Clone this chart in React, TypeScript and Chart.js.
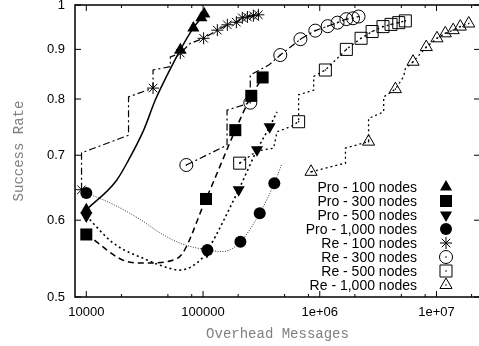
import React, { useEffect, useRef } from 'react';
import { Chart, registerables } from 'chart.js';
import { drawPoint } from 'chart.js/helpers';

Chart.register(...registerables);

// ---------- axes ----------
const xMajorTicks = [1e4, 1e5, 1e6, 1e7];
const xMajorLabels = ['10000', '100000', '1e+06', '1e+07'];
const xMinorTicks = [2e4, 5e4, 8e4, 2e5, 5e5, 8e5, 2e6, 5e6, 8e6, 2e7];
const yTicks = [0.5, 0.6, 0.7, 0.8, 0.9, 1];
const yTickLabels = ['0.5', '0.6', '0.7', '0.8', '0.9', '1'];

// ---------- series names ----------
const seriesNames = [
  'Pro - 100 nodes',
  'Pro - 300 nodes',
  'Pro - 500 nodes',
  'Pro - 1,000 nodes',
  'Re - 100 nodes',
  'Re - 300 nodes',
  'Re - 500 nodes',
  'Re - 1,000 nodes',
];

// ---------- marker values ----------
const pro100X = [10000, 63900, 82600, 96700, 102600];
const pro100Y = [0.615, 0.899, 0.947, 0.970, 0.979];
const pro300X = [10000, 106000, 189000, 259000, 324000];
const pro300Y = [0.580, 0.631, 0.743, 0.806, 0.842];
const pro500X = [10000, 108000, 202000, 290000, 372000];
const pro500Y = [0.606, 0.557, 0.645, 0.709, 0.749];
const pro1000X = [10000, 109000, 209000, 306000, 408000];
const pro1000Y = [0.640, 0.559, 0.570, 0.610, 0.655];
const re100X = [9100, 37300, 63900, 101200, 132600, 161500, 193000, 217000, 240000, 270000, 298000];
const re100Y = [0.645, 0.821, 0.892, 0.924, 0.942, 0.954, 0.960, 0.970, 0.972, 0.975, 0.977];
const re300X = [71900, 254000, 459000, 683000, 916000, 1170000, 1420000, 1690000, 1930000, 2150000];
const re300Y = [0.684, 0.793, 0.888, 0.922, 0.941, 0.951, 0.959, 0.967, 0.969, 0.973];
const re500X = [206000, 659000, 1117000, 1690000, 2260000, 2810000, 3480000, 4080000, 4750000, 5410000];
const re500Y = [0.687, 0.758, 0.857, 0.900, 0.924, 0.939, 0.950, 0.955, 0.959, 0.963];
const re1000X = [842000, 2620000, 4450000, 6300000, 8180000, 10100000, 11900000, 13900000, 16000000, 18900000];
const re1000Y = [0.673, 0.723, 0.819, 0.874, 0.905, 0.924, 0.935, 0.942, 0.950, 0.957];

// ---------- line paths (vertices) ----------
const pro100LineX = [10000, 18070, 23000, 31000, 39000, 49400, 63900, 82600, 96700, 102600];
const pro100LineY = [0.615, 0.659, 0.692, 0.743, 0.798, 0.847, 0.899, 0.947, 0.970, 0.979];
const pro300LineX = [10000, 23800, 33300, 60200, 106000, 189000, 259000, 324000];
const pro300LineY = [0.580, 0.543, 0.542, 0.548, 0.631, 0.743, 0.806, 0.842];
const pro500LineX = [10000, 17100, 33100, 52500, 63900, 98000, 108000, 202000, 290000, 372000, 430000];
const pro500LineY = [0.606, 0.568, 0.546, 0.535, 0.533, 0.548, 0.557, 0.645, 0.709, 0.749, 0.776];
const pro1000LineX = [10000, 16060, 29000, 43000, 63900, 109000, 149000, 209000, 306000, 408000, 469000];
const pro1000LineY = [0.640, 0.625, 0.601, 0.582, 0.568, 0.559, 0.557, 0.570, 0.610, 0.655, 0.684];
const re100LineX = [9100, 9100, 23000, 23000, 37300, 37300, 52500, 52500, 63900, 77800, 101200, 132600, 161500, 193000, 217000, 240000, 270000, 298000];
const re100LineY = [0.645, 0.704, 0.734, 0.804, 0.821, 0.857, 0.864, 0.884, 0.892, 0.913, 0.924, 0.942, 0.954, 0.960, 0.970, 0.972, 0.975, 0.977];
const re300LineX = [71900, 160600, 160600, 254000, 254000, 365000, 459000, 683000, 916000, 1170000, 1420000, 1690000, 1930000, 2150000];
const re300LineY = [0.684, 0.717, 0.779, 0.793, 0.847, 0.867, 0.888, 0.922, 0.941, 0.951, 0.959, 0.967, 0.969, 0.973];
const re500LineX = [206000, 290000, 403000, 430000, 560000, 659000, 659000, 887000, 887000, 1117000, 1690000, 2260000, 2810000, 3480000, 4080000, 4750000, 5410000];
const re500LineY = [0.687, 0.707, 0.712, 0.740, 0.749, 0.758, 0.808, 0.817, 0.844, 0.857, 0.900, 0.924, 0.939, 0.950, 0.955, 0.959, 0.963];
const re1000LineX = [842000, 1660000, 1660000, 2620000, 2620000, 3530000, 3530000, 4450000, 5240000, 5410000, 6300000, 8180000, 10100000, 11900000, 13900000, 16000000, 18900000];
const re1000LineY = [0.673, 0.687, 0.712, 0.723, 0.764, 0.776, 0.804, 0.819, 0.844, 0.860, 0.874, 0.905, 0.924, 0.935, 0.942, 0.950, 0.957];

const markerX = [pro100X, pro300X, pro500X, pro1000X, re100X, re300X, re500X, re1000X];
const markerY = [pro100Y, pro300Y, pro500Y, pro1000Y, re100Y, re300Y, re500Y, re1000Y];
const lineX = [pro100LineX, pro300LineX, pro500LineX, pro1000LineX, re100LineX, re300LineX, re500LineX, re1000LineX];
const lineY = [pro100LineY, pro300LineY, pro500LineY, pro1000LineY, re100LineY, re300LineY, re500LineY, re1000LineY];

type Style = {
  pointStyle: string; radius: number; rotation: number; filled: boolean; dot: boolean;
  dash: number[]; lw: number; lineColor: string; smooth: boolean;
};
const styles: Style[] = [
  { pointStyle: 'triangle', radius: 7, rotation: 0, filled: true, dot: false, dash: [], lw: 1.5, lineColor: '#000', smooth: true },
  { pointStyle: 'rect', radius: 8.5, rotation: 0, filled: true, dot: false, dash: [6, 4], lw: 1.5, lineColor: '#000', smooth: true },
  { pointStyle: 'triangle', radius: 7, rotation: 180, filled: true, dot: false, dash: [2, 3], lw: 1.6, lineColor: '#000', smooth: true },
  { pointStyle: 'circle', radius: 6, rotation: 0, filled: true, dot: false, dash: [1, 1.5], lw: 1, lineColor: '#333', smooth: true },
  { pointStyle: 'star', radius: 6, rotation: 0, filled: false, dot: false, dash: [7, 3, 2, 3], lw: 1.2, lineColor: '#000', smooth: false },
  { pointStyle: 'circle', radius: 6.5, rotation: 0, filled: false, dot: true, dash: [7, 3, 2, 3], lw: 1.2, lineColor: '#000', smooth: false },
  { pointStyle: 'rect', radius: 8.5, rotation: 0, filled: false, dot: true, dash: [2, 3], lw: 1.3, lineColor: '#000', smooth: false },
  { pointStyle: 'triangle', radius: 7, rotation: 0, filled: false, dot: true, dash: [2, 3], lw: 1.3, lineColor: '#000', smooth: false },
];

const pts = (xs: number[], ys: number[]) => xs.map((x, i) => ({ x, y: ys[i] }));

const framePlugin = {
  id: 'gpFrame',
  afterDatasetsDraw(chart: any) {
    const { ctx, chartArea: a, scales } = chart;
    const xs = scales.x, ys = scales.y;
    ctx.save();
    ctx.strokeStyle = '#000';
    ctx.lineWidth = 1;
    ctx.setLineDash([]);
    ctx.beginPath();
    const xt = (v: number, len: number) => {
      const p = xs.getPixelForValue(v);
      ctx.moveTo(p, a.bottom); ctx.lineTo(p, a.bottom - len);
      ctx.moveTo(p, a.top); ctx.lineTo(p, a.top + len);
    };
    xMajorTicks.forEach((v) => xt(v, 6));
    xMinorTicks.forEach((v) => xt(v, 3));
    yTicks.forEach((v) => {
      const p = ys.getPixelForValue(v);
      ctx.moveTo(a.left, p); ctx.lineTo(a.left + 6, p);
      ctx.moveTo(a.right, p); ctx.lineTo(a.right - 6, p);
    });
    ctx.stroke();
    ctx.lineWidth = 1.5;
    ctx.strokeRect(a.left, a.top, a.right - a.left, a.bottom - a.top);
    ctx.restore();
  },
};

const legendPlugin = {
  id: 'gpLegend',
  afterDraw(chart: any) {
    const { ctx, chartArea: a } = chart;
    const textX = a.right - 63;
    const markX = a.right - 34;
    const top = a.bottom - 110;
    ctx.save();
    ctx.font = '14px "Liberation Sans"';
    ctx.textAlign = 'right';
    ctx.textBaseline = 'middle';
    seriesNames.forEach((name, i) => {
      const y = top + i * 14;
      const s = styles[i];
      ctx.fillStyle = '#000';
      ctx.fillText(name, textX, y + 1);
      ctx.setLineDash([]);
      ctx.fillStyle = s.filled ? '#000' : 'rgba(0,0,0,0)';
      ctx.strokeStyle = '#000';
      ctx.lineWidth = 1;
      drawPoint(ctx, { pointStyle: s.pointStyle as any, radius: s.radius, rotation: s.rotation, borderWidth: s.filled ? 0 : 1 }, markX, y);
      if (s.dot) {
        ctx.fillStyle = '#000';
        ctx.beginPath();
        ctx.arc(markX, y, 0.8, 0, Math.PI * 2);
        ctx.fill();
      }
    });
    ctx.restore();
  },
};

export default function App() {
  const ref = useRef<HTMLCanvasElement | null>(null);
  useEffect(() => {
    if (!ref.current) return;
    const datasets: any[] = [];
    styles.forEach((s, i) => {
      datasets.push({
        label: seriesNames[i] + ' line',
        data: pts(lineX[i], lineY[i]),
        borderColor: s.lineColor,
        borderWidth: s.lw,
        borderDash: s.dash,
        pointRadius: 0,
        fill: false,
        showLine: true,
        cubicInterpolationMode: s.smooth ? 'monotone' : 'default',
        tension: 0,
        order: 3,
      });
    });
    styles.forEach((s, i) => {
      datasets.push({
        label: seriesNames[i],
        data: pts(markerX[i], markerY[i]),
        showLine: false,
        pointStyle: s.pointStyle,
        pointRadius: s.radius,
        pointRotation: s.rotation,
        pointBackgroundColor: s.filled ? '#000' : 'rgba(0,0,0,0)',
        pointBorderColor: '#000',
        pointBorderWidth: s.filled ? 0 : 1,
        order: 2,
      });
      if (s.dot) {
        datasets.push({
          label: seriesNames[i] + ' dot',
          data: pts(markerX[i], markerY[i]),
          showLine: false,
          pointStyle: 'circle',
          pointRadius: 0.8,
          pointBackgroundColor: '#000',
          pointBorderWidth: 0,
          order: 1,
        });
      }
    });

    const chart = new Chart(ref.current, {
      type: 'line',
      data: { datasets },
      options: {
        responsive: false,
        animation: false,
        layout: { autoPadding: false, padding: { top: 5, right: 2, left: 0, bottom: 0 } },
        plugins: { legend: { display: false }, tooltip: { enabled: false } },
        scales: {
          x: {
            type: 'logarithmic',
            min: 8000,
            max: 2.36e7,
            bounds: 'data',
            grid: { display: false, drawTicks: false },
            border: { display: false },
            afterBuildTicks: (s: any) => { s.ticks = xMajorTicks.map((v) => ({ value: v })); },
            afterFit: (s: any) => { s.height = 49; s.paddingLeft = 0; s.paddingRight = 0; },
            ticks: {
              autoSkip: false,
              maxRotation: 0,
              padding: 8,
              color: '#000',
              font: { family: 'Liberation Sans', size: 13 },
              callback: (v: any) => { const k = xMajorTicks.indexOf(Number(v)); return k >= 0 ? xMajorLabels[k] : ''; },
            },
            title: {
              display: true,
              text: 'Overhead Messages',
              color: '#808080',
              font: { family: 'Liberation Mono', size: 14 },
              padding: { top: 0, bottom: 3 },
            },
          } as any,
          y: {
            type: 'logarithmic',
            min: 0.5,
            max: 1,
            bounds: 'data',
            grid: { display: false, drawTicks: false },
            border: { display: false },
            afterBuildTicks: (s: any) => { s.ticks = yTicks.map((v) => ({ value: v })); },
            afterFit: (s: any) => { s.width = 75; s.paddingTop = 0; s.paddingBottom = 0; },
            ticks: {
              autoSkip: false,
              padding: 10,
              color: '#000',
              font: { family: 'Liberation Sans', size: 13 },
              callback: (v: any) => { const k = yTicks.indexOf(Number(v)); return k >= 0 ? yTickLabels[k] : ''; },
            },
            title: {
              display: true,
              text: 'Success Rate',
              color: '#808080',
              font: { family: 'Liberation Mono', size: 14 },
              padding: { top: 11, bottom: 0 },
            },
          } as any,
        },
      },
      plugins: [framePlugin, legendPlugin],
    });
    return () => chart.destroy();
  }, []);

  return (
    <div style={{ position: 'fixed', left: 0, top: 0, width: 479, height: 346, overflow: 'hidden', background: '#fff' }}>
      <canvas ref={ref} width={482} height={346} style={{ width: 482, height: 346, display: 'block' }} />
    </div>
  );
}
